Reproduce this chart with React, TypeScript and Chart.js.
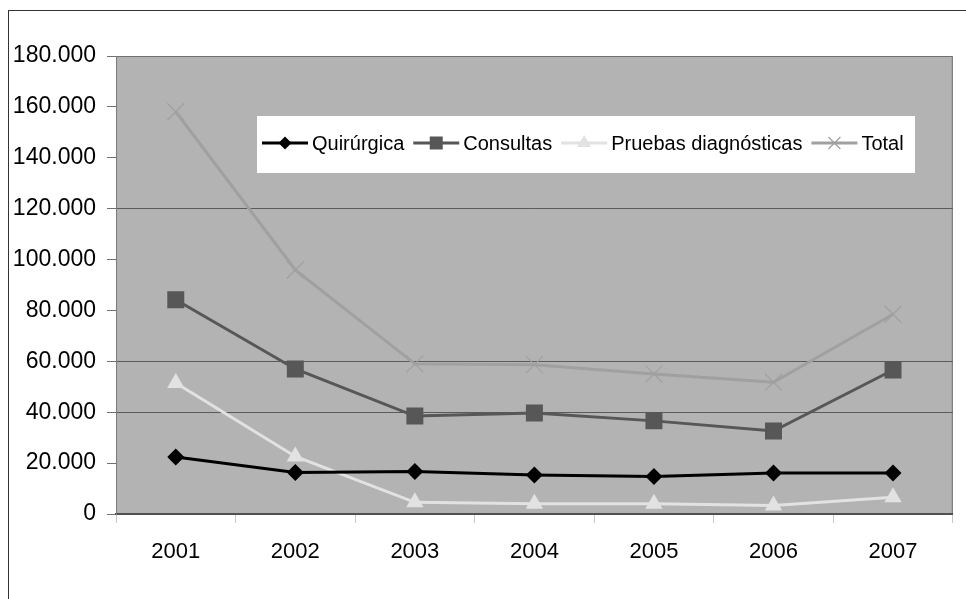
import React, { useEffect, useRef } from "react";
import { Chart, registerables } from "chart.js";

Chart.register(...registerables);

const categories = ["2001", "2002", "2003", "2004", "2005", "2006", "2007"];
const quirurgica = [22400, 16300, 16700, 15300, 14700, 16100, 16100];
const consultas = [84200, 57000, 38500, 39700, 36600, 32600, 56600];
const pruebas = [51500, 22600, 4600, 4000, 4000, 3300, 6600];
const total = [158100, 95900, 59000, 58700, 55000, 51800, 78500];
const seriesNames = ["Quirúrgica", "Consultas", "Pruebas diagnósticas", "Total"];
const yTicks = [0, 20000, 40000, 60000, 80000, 100000, 120000, 140000, 160000, 180000];
const visibleGrid = [40000, 60000, 120000];

const FONT = "'Liberation Sans', Arial, sans-serif";

function fmt(v: number) {
  return String(v).replace(/\B(?=(\d{3})+(?!\d))/g, ".");
}

function drawMarker(ctx: CanvasRenderingContext2D, style: string, x: number, y: number, r: number, color: string) {
  ctx.save();
  ctx.fillStyle = color;
  ctx.strokeStyle = color;
  ctx.beginPath();
  if (style === "rectRot") {
    ctx.moveTo(x, y - r);
    ctx.lineTo(x + r, y);
    ctx.lineTo(x, y + r);
    ctx.lineTo(x - r, y);
    ctx.closePath();
    ctx.fill();
  } else if (style === "rect") {
    ctx.rect(x - r, y - r, 2 * r, 2 * r);
    ctx.fill();
  } else if (style === "triangle") {
    ctx.moveTo(x, y - r);
    ctx.lineTo(x + r * 0.87, y + r * 0.5);
    ctx.lineTo(x - r * 0.87, y + r * 0.5);
    ctx.closePath();
    ctx.fill();
  } else {
    ctx.lineWidth = 1.2;
    ctx.moveTo(x - r, y - r);
    ctx.lineTo(x + r, y + r);
    ctx.moveTo(x + r, y - r);
    ctx.lineTo(x - r, y + r);
    ctx.stroke();
  }
  ctx.restore();
}

const plotBgPlugin = {
  id: "plotBg",
  beforeDraw(chart: any) {
    const { ctx, chartArea: a } = chart;
    ctx.save();
    ctx.fillStyle = "#b3b3b3";
    ctx.fillRect(a.left, a.top, a.right - a.left, a.bottom - a.top);
    ctx.strokeStyle = "#707070";
    ctx.lineWidth = 1;
    ctx.strokeRect(a.left + 0.5, a.top + 0.5, a.right - a.left - 1, a.bottom - a.top);
    ctx.restore();
  },
};

const legendMarkers = [
  { style: "rectRot", r: 6.5 },
  { style: "rect", r: 6.5 },
  { style: "triangle", r: 8 },
  { style: "cross", r: 6 },
];

const innerLegendPlugin = {
  id: "innerLegend",
  afterDraw(chart: any) {
    const { ctx, chartArea: a } = chart;
    const boxL = a.left + 141;
    const boxT = a.top + 60;
    const boxW = 658;
    const boxH = 57;
    ctx.save();
    ctx.fillStyle = "#ffffff";
    ctx.fillRect(boxL, boxT, boxW, boxH);
    ctx.font = `20px ${FONT}`;
    ctx.textBaseline = "middle";
    const cy = boxT + 27;
    let x = boxL + 5;
    chart.data.datasets.forEach((ds: any, i: number) => {
      ctx.strokeStyle = ds.borderColor;
      ctx.lineWidth = 3;
      ctx.beginPath();
      ctx.moveTo(x, cy);
      ctx.lineTo(x + 46, cy);
      ctx.stroke();
      const m = legendMarkers[i];
      drawMarker(ctx, m.style, x + 23, cy, m.r, ds.pointBackgroundColor);
      ctx.fillStyle = "#000";
      ctx.fillText(ds.label, x + 50, cy + 1);
      x += 50 + ctx.measureText(ds.label).width + 9;
    });
    ctx.restore();
  },
};

export default function App() {
  const ref = useRef<HTMLCanvasElement>(null);
  useEffect(() => {
    if (!ref.current) return;
    const chart = new Chart(ref.current, {
      type: "line",
      data: {
        labels: categories,
        datasets: [
          {
            label: seriesNames[0],
            data: quirurgica,
            borderColor: "#000000",
            backgroundColor: "#000000",
            pointBackgroundColor: "#000000",
            pointBorderColor: "#000000",
            pointStyle: "rectRot",
            pointRadius: 8.5,
            pointBorderWidth: 0,
            borderWidth: 3,
            order: 1,
          },
          {
            label: seriesNames[1],
            data: consultas,
            borderColor: "#575757",
            backgroundColor: "#575757",
            pointBackgroundColor: "#575757",
            pointBorderColor: "#575757",
            pointStyle: "rect",
            pointRadius: 12,
            pointBorderWidth: 0,
            borderWidth: 3,
            order: 2,
          },
          {
            label: seriesNames[2],
            data: pruebas,
            borderColor: "#e2e2e2",
            backgroundColor: "#e2e2e2",
            pointBackgroundColor: "#e2e2e2",
            pointBorderColor: "#e2e2e2",
            pointStyle: "triangle",
            pointRadius: 10,
            pointBorderWidth: 0,
            borderWidth: 3,
            order: 3,
          },
          {
            label: seriesNames[3],
            data: total,
            borderColor: "#a0a0a0",
            backgroundColor: "#a0a0a0",
            pointBackgroundColor: "#a0a0a0",
            pointBorderColor: "#a0a0a0",
            pointStyle: "crossRot",
            pointRadius: 12,
            pointBorderWidth: 1.2,
            borderWidth: 3,
            order: 4,
          },
        ],
      },
      options: {
        responsive: false,
        animation: false,
        events: [],
        layout: { padding: { left: 0, right: 3, top: 45, bottom: 25 } },
        plugins: {
          legend: { display: false },
          tooltip: { enabled: false },
          title: { display: false },
        },
        scales: {
          x: {
            offset: true,
            afterFit: (s: any) => {
              s.height = 60;
            },
            grid: {
              offset: true,
              drawOnChartArea: false,
              drawTicks: true,
              tickLength: 9,
              tickColor: "#c8c8c8",
              tickWidth: 1,
            },
            border: { display: true, color: "#505050", width: 2 },
            ticks: {
              color: "#000",
              padding: 16,
              font: { family: FONT, size: 22 },
              maxRotation: 0,
            },
          },
          y: {
            min: 0,
            max: 180000,
            afterFit: (s: any) => {
              s.width = 107;
            },
            afterBuildTicks: (s: any) => {
              s.ticks = yTicks.map((v) => ({ value: v }));
            },
            grid: {
              color: (c: any) =>
                c.tick && visibleGrid.includes(c.tick.value) ? "#5a5a5a" : "rgba(0,0,0,0)",
              tickColor: "#707070",
              tickLength: 9,
              lineWidth: 1,
            },
            border: { display: true, color: "#7a7a7a", width: 1 },
            ticks: {
              color: "#000",
              padding: 11,
              font: { family: FONT, size: 23 },
              callback: (v: any) => fmt(Number(v)),
            },
          },
        },
      },
      plugins: [plotBgPlugin, innerLegendPlugin],
    });
    return () => chart.destroy();
  }, []);

  return (
    <div
      style={{
        position: "fixed",
        left: 8,
        top: 10,
        width: 980,
        height: 620,
        borderLeft: "1px solid #333",
        borderTop: "1px solid #333",
        background: "#fff",
      }}
    >
      <canvas ref={ref} width={957} height={588} style={{ display: "block", width: 957, height: 588 }} />
    </div>
  );
}
